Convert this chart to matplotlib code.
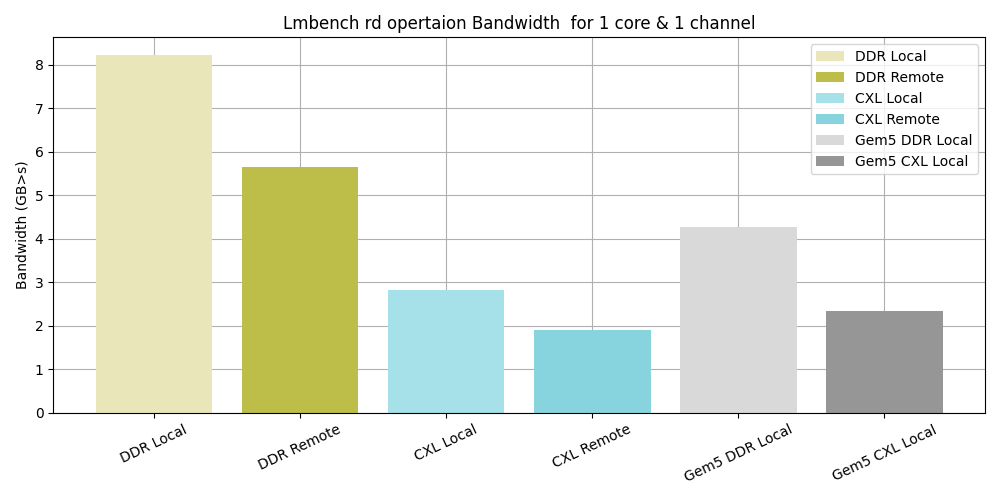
import matplotlib
matplotlib.use("Agg")
import matplotlib.pyplot as plt

categories = ["DDR Local", "DDR Remote", "CXL Local", "CXL Remote", "Gem5 DDR Local", "Gem5 CXL Local"]
values = [8.22, 5.64, 2.82, 1.91, 4.27, 2.34]
colors = ["#e9e7b9", "#bdbd4a", "#a6e0e8", "#87d3de", "#d9d9d9", "#969696"]

fig, ax = plt.subplots(figsize=(10, 5), dpi=100)
ax.set_axisbelow(True)
ax.grid(True, color="#b0b0b0")
for c, v, col in zip(categories, values, colors):
    ax.bar(c, v, color=col, label=c, width=0.8)
ax.set_ylabel("Bandwidth (GB>s)")
ax.set_title("Lmbench rd opertaion Bandwidth  for 1 core & 1 channel")
plt.setp(ax.get_xticklabels(), rotation=25)
ax.legend(loc="upper right")
fig.tight_layout()
fig.savefig("out.png")
